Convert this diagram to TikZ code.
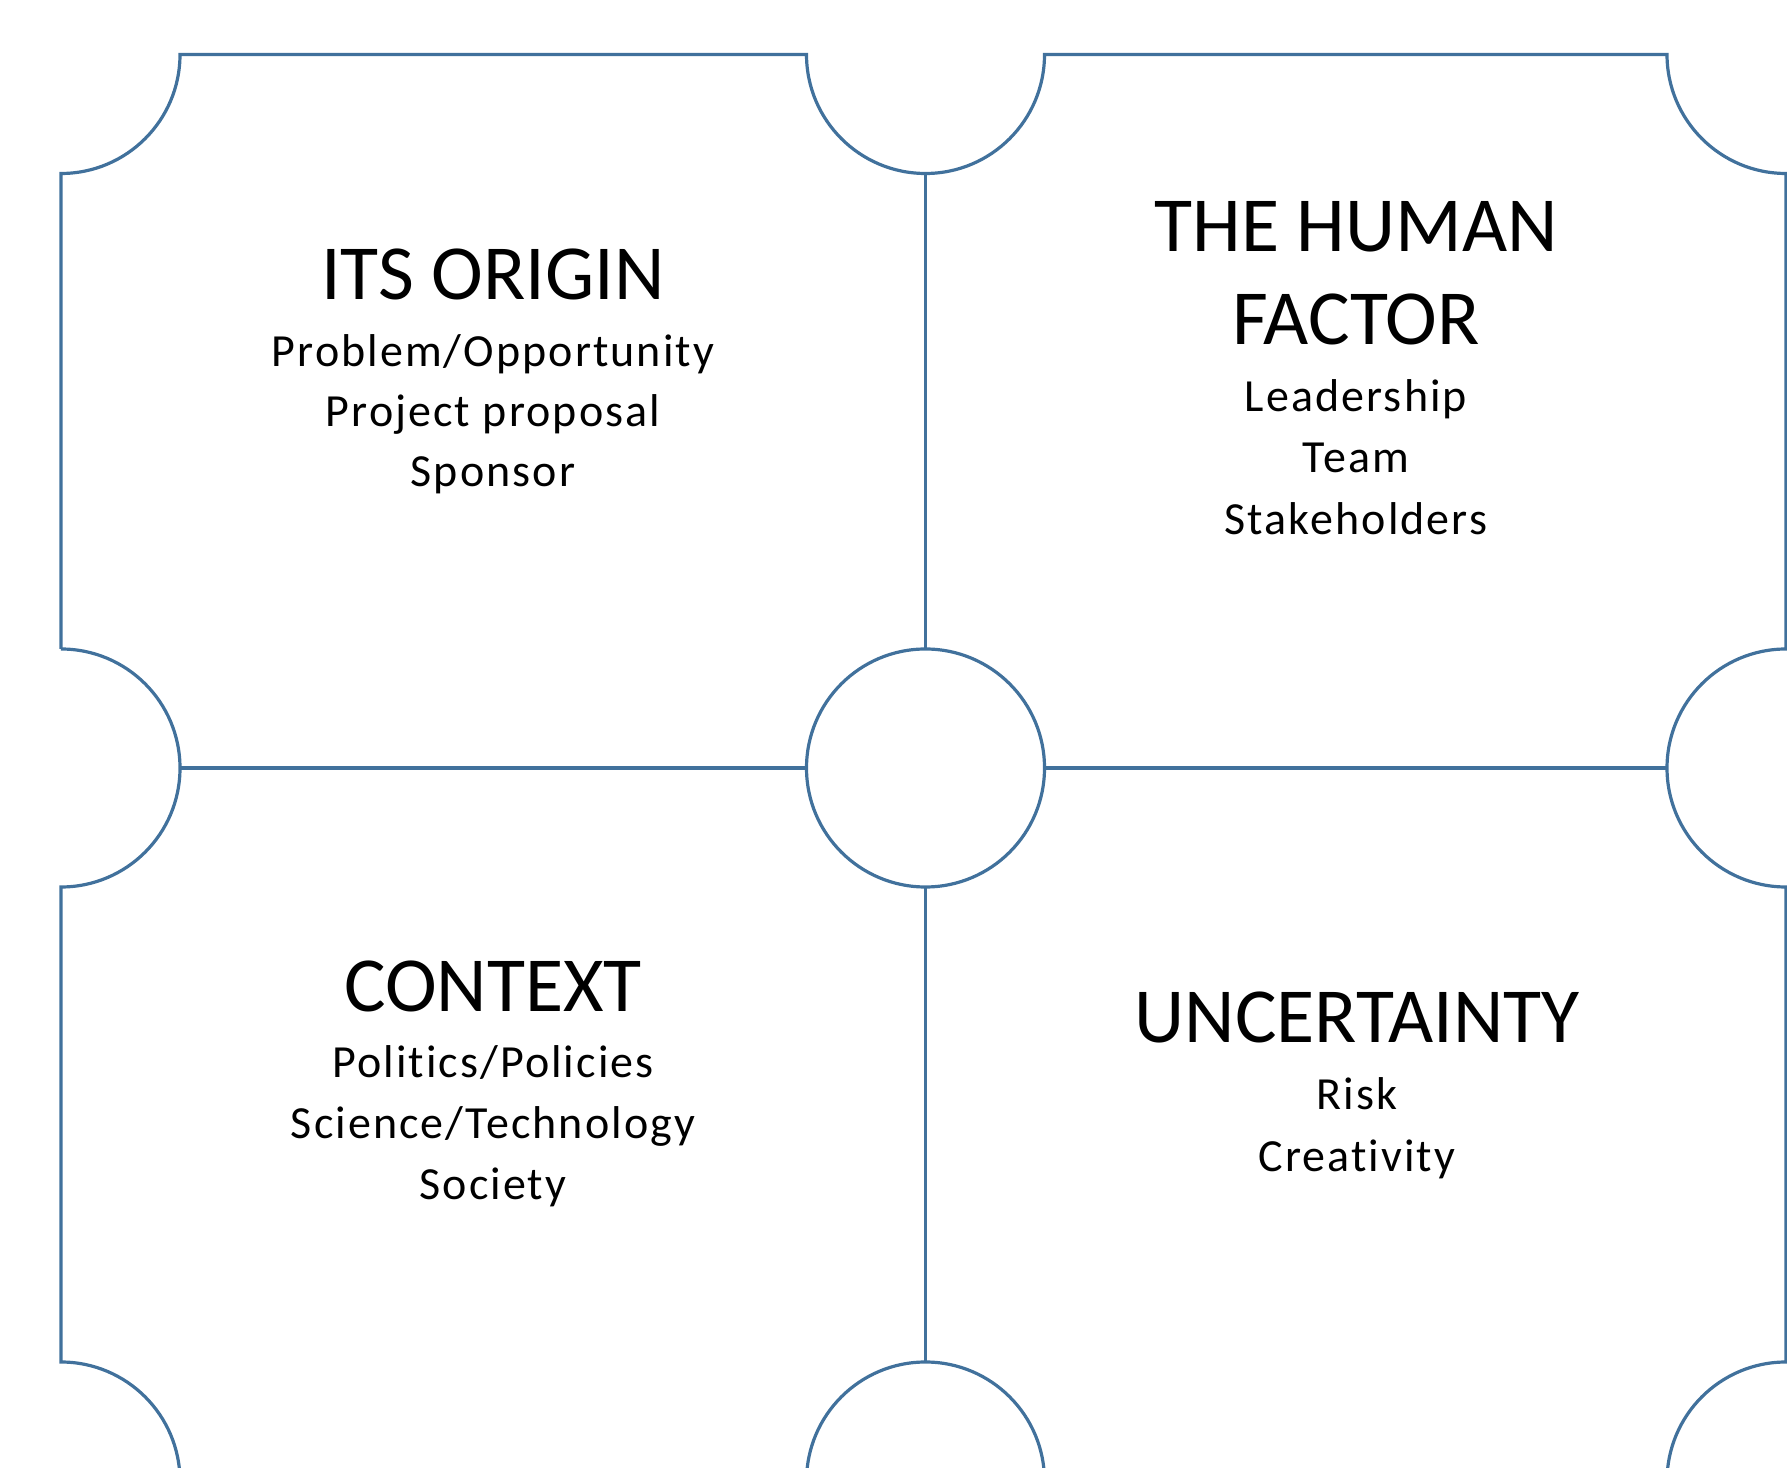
\documentclass[tikz,border=0pt]{standalone}
\usepackage{fontspec}
\setmainfont{Carlito}
\newfontfamily\itemfont[LetterSpace=4.5,Ligatures={NoCommon}]{Carlito}
\definecolor{frameblue}{RGB}{65,113,156}
\begin{document}
\begin{tikzpicture}[x=1pt,y=1pt,
  frame/.style={draw=frameblue,line width=3.2pt,line join=miter},
  headline/.style={anchor=base,inner sep=0pt,font=\fontsize{78}{90}\selectfont},
  itemline/.style={anchor=base,inner sep=0pt,font=\itemfont\fontsize{46}{54}\selectfont}]
\useasboundingbox (0,0) rectangle (1787,1467);
\clip (0,0) rectangle (1787,1467);

% outer frame with notched corners
\draw[frame] (61,818) -- (61,1293.5)
  arc[start angle=-90,end angle=0,radius=119] -- (806.5,1412.5)
  arc[start angle=180,end angle=360,radius=119] -- (1667,1412.5)
  arc[start angle=180,end angle=270,radius=119] -- (1786,818)
  arc[start angle=90,end angle=270,radius=119] -- (1786,105)
  arc[start angle=90,end angle=180,radius=119];
\draw[frame] (61,818) arc[start angle=90,end angle=-90,radius=119] -- (61,105)
  arc[start angle=90,end angle=0,radius=119];

% inner dividers and hubs
\draw[frame] (925.5,1293.5) -- (925.5,818);
\draw[frame] (925.5,580) -- (925.5,105);
\draw[frame] (180,699) -- (806.5,699);
\draw[frame] (1044.5,699) -- (1667,699);
\draw[frame] (925.5,699) circle[radius=119];
\draw[frame] (925.5,-14) circle[radius=119];

% top left: origin
\node[headline] (originT) at (493,1167) {ITS ORIGIN};
\node[itemline] (originA) at (493,1100) {Problem/Opportunity};
\node[itemline] (originB) at (493,1040) {Project proposal};
\node[itemline] (originC) at (493,980) {Sponsor};

% top right: human factor
\node[headline] (humanT) at (1356,1215) {THE HUMAN};
\node[headline] (humanU) at (1356,1122) {FACTOR};
\node[itemline] (humanA) at (1356,1055) {Leadership};
\node[itemline] (humanB) at (1356,994) {Team};
\node[itemline] (humanC) at (1356,932) {Stakeholders};

% bottom left: context
\node[headline] (contextT) at (493,455) {CONTEXT};
\node[itemline] (contextA) at (493,389) {Politics/Policies};
\node[itemline] (contextB) at (493,328) {Science/Technology};
\node[itemline] (contextC) at (493,267) {Society};

% bottom right: uncertainty
\node[headline] (uncertT) at (1357,424) {UNCERTAINTY};
\node[itemline] (uncertA) at (1357,357) {Risk};
\node[itemline] (uncertB) at (1357,295) {Creativity};
\end{tikzpicture}
\end{document}
